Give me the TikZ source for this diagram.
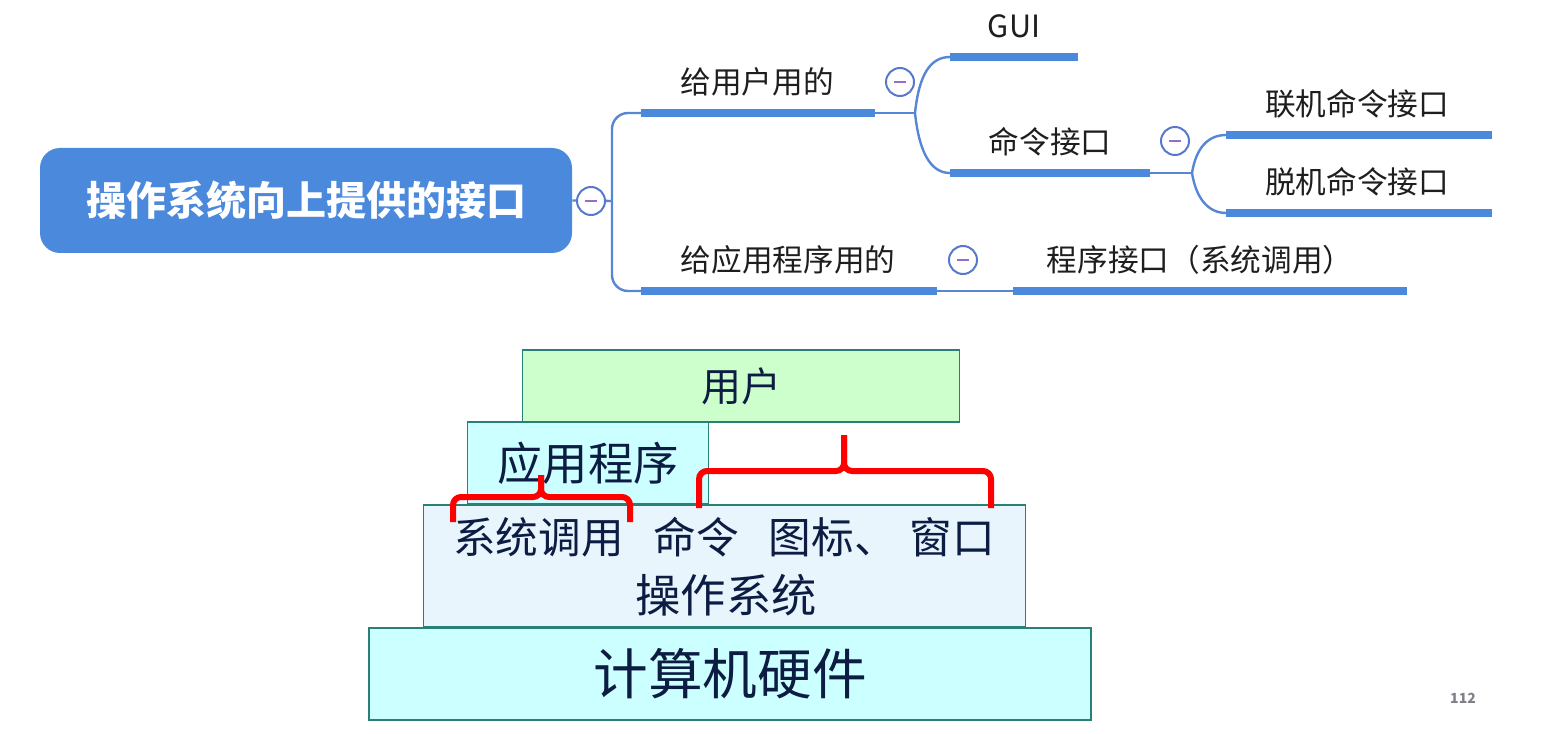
\documentclass[tikz,border=0pt]{standalone}
\usepackage{fontspec}
\usepackage{tikz}
\newfontfamily\cjk{Noto Sans CJK SC}
\definecolor{mapblue}{RGB}{74,137,220}
\definecolor{linkblue}{RGB}{86,134,212}
\definecolor{foldring}{RGB}{88,120,205}
\definecolor{foldbar}{RGB}{150,110,200}
\definecolor{maptext}{RGB}{30,30,30}
\definecolor{boxedge}{RGB}{40,128,118}
\definecolor{usergreen}{RGB}{204,255,204}
\definecolor{appcyan}{RGB}{204,255,255}
\definecolor{ospale}{RGB}{232,245,253}
\definecolor{stackink}{RGB}{12,28,66}
\definecolor{bracered}{RGB}{255,0,0}

\begin{document}
\begin{tikzpicture}[x=0.75pt,y=0.75pt,yscale=-1,xscale=1,
  maptxt/.style={font=\cjk\fontsize{23}{27}\selectfont,text=maptext},
  underline/.style={line width=6pt,draw=mapblue},
  link/.style={line width=1.8pt,draw=linkblue},
  fold/.style={circle,draw=foldring,line width=1.5pt,fill=white,minimum size=21pt,inner sep=0pt,
    path picture={\draw[foldbar,line width=1.3pt] ([xshift=-4.5pt]path picture bounding box.center) -- ([xshift=4.5pt]path picture bounding box.center);}},
  layer/.style={draw=boxedge,line width=1.2pt,inner sep=0pt,text=stackink},
  brace/.style={draw=bracered,line width=4.5pt,rounded corners=6pt}]
\useasboundingbox (0,0) rectangle (1548,734);

% mind map
\node[fill=mapblue,rounded corners=15pt,minimum width=399pt,minimum height=78.75pt,text=white,font=\cjk\bfseries\fontsize{30}{34}\selectfont] (root) at (306,200.5) {操作系统向上提供的接口};
\coordinate (trunk) at (612,201);

\draw[underline] (641,113) coordinate (u1s) -- (875,113) coordinate (u1e);
\draw (757,82) node[maptxt] (user) {给用户用的};
\coordinate (j1) at (915,113);

\draw[underline] (950,57) coordinate (g1s) -- (1078,57);
\draw (1014,26) node[maptxt] (gui) {GUI};

\draw[underline] (950,173) coordinate (c1s) -- (1150,173) coordinate (c1e);
\draw (1050,142) node[maptxt] (cmd) {命令接口};
\coordinate (j2) at (1192,173);

\draw[underline] (1226,135) coordinate (on1) -- (1492,135);
\draw (1357,104) node[maptxt] (online) {联机命令接口};
\draw[underline] (1226,213) coordinate (off1) -- (1492,213);
\draw (1357,182) node[maptxt] (offline) {脱机命令接口};

\draw[underline] (641,291) coordinate (u2s) -- (937,291) coordinate (u2e);
\draw (788,260) node[maptxt] (prog) {给应用程序用的};
\draw[underline] (1013,291) coordinate (s1s) -- (1407,291);
\draw (1200,260) node[maptxt] (syscall) {程序接口（系统调用）};

% connectors
\draw[link,rounded corners=12pt] (u1s) -| (trunk) |- (u2s);
\draw[link] (root.east) -- (trunk);
\draw[link] (u1e) -- (j1);
\draw[link] (j1) .. controls (919,75) and (930,57) .. (g1s);
\draw[link] (j1) .. controls (919,151) and (930,173) .. (c1s);
\draw[link] (c1e) -- (j2);
\draw[link] (j2) .. controls (1196,148) and (1208,135) .. (on1);
\draw[link] (j2) .. controls (1196,198) and (1208,213) .. (off1);
\draw[link] (u2e) -- (s1s);

% fold buttons
\node[fold] (f0) at (591,201) {};
\node[fold] (f1) at (900,82) {};
\node[fold] (f2) at (1175,141) {};
\node[fold] (f3) at (963,260) {};

% layers
\node[layer,fill=usergreen,minimum width=327.75pt,minimum height=54pt,font=\cjk\fontsize{30}{34}\selectfont] (usr) at (741,386) {用户};
\node[layer,fill=appcyan,minimum width=180.75pt,minimum height=61.5pt,font=\cjk\fontsize{34}{38}\selectfont] (app) at (588,463) {应用程序};
\node[layer,fill=ospale,minimum width=451.5pt,minimum height=91.5pt] (os) at (724.5,566) {};
\draw (724,537) node[text=stackink,font=\cjk\fontsize{32}{36}\selectfont] (ifaces) {系统调用\hspace{0.7em}命令\hspace{0.7em}图标、\hspace{0.3em}窗口};
\draw (726,595) node[text=stackink,font=\cjk\fontsize{34}{38}\selectfont] (osname) {操作系统};
\node[layer,fill=appcyan,minimum width=541.5pt,minimum height=69pt,font=\cjk\fontsize{41}{45}\selectfont] (hw) at (730,674) {计算机硬件};

% braces
\draw[brace] (453,522) -- (453,497) -- (541,497) -- (541,475);
\draw[brace] (630,522) -- (630,497) -- (541,497) -- (541,475);
\draw[brace] (699,508) -- (699,471) -- (844,471) -- (844,435);
\draw[brace] (991,508) -- (991,471) -- (844,471) -- (844,435);

\draw (1463,698) node[text={rgb,255:red,128;green,128;blue,138},font=\cjk\bfseries\fontsize{10.5}{12}\selectfont] (page) {112};
\end{tikzpicture}
\end{document}
